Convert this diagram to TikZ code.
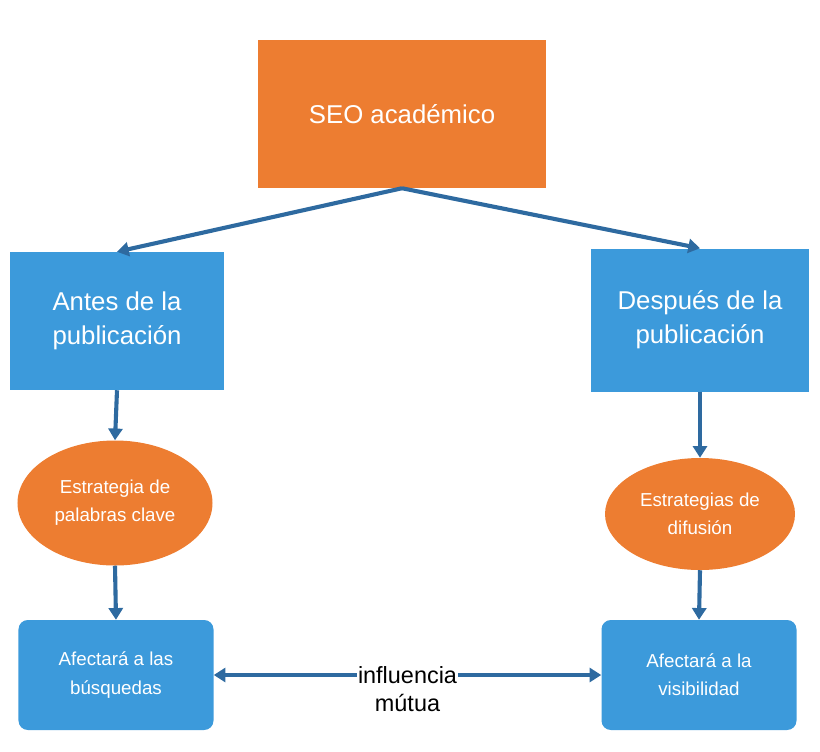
\documentclass[tikz,border=0pt]{standalone}
\usepackage{fontspec}
\setmainfont{Liberation Sans}
\usetikzlibrary{shapes.geometric, positioning, arrows.meta}
\definecolor{seoorange}{HTML}{ED7D31}
\definecolor{seoblue}{HTML}{3C9ADB}
\definecolor{seoarrow}{HTML}{2E6AA0}
\begin{document}
\begin{tikzpicture}[x=0.03cm,y=-0.03cm]
    \tikzset{head/.style={rectangle,fill=seoorange,text=white,minimum width=8.64cm,minimum height=4.44cm,font=\fontsize{22}{26}\selectfont}}
    \tikzset{phase/.style={rectangle,fill=seoblue,text=white,align=center,font=\fontsize{22}{29}\selectfont}}
    \tikzset{plan/.style={ellipse,fill=seoorange,text=white,align=center,inner sep=0pt,font=\fontsize{16}{24}\selectfont}}
    \tikzset{effect/.style={rectangle,rounded corners=8pt,fill=seoblue,text=white,align=center,minimum width=5.85cm,minimum height=3.3cm,font=\fontsize{16}{24}\selectfont}}
    \tikzset{link/.style={draw=seoarrow,line width=3.5pt,-{Triangle[length=10pt,width=12pt]}}}
    \useasboundingbox (0,0) rectangle (820,751);
    \node[head] (seo) at (402,114) {SEO académico};
    \node[phase,minimum width=6.42cm,minimum height=4.14cm] (antes) at (117,321) {Antes de la\\publicación};
    \node[phase,minimum width=6.54cm,minimum height=4.29cm] (despues) at (700,320) {Después de la\\publicación};
    \node[plan,minimum width=5.85cm,minimum height=3.75cm] (clave) at (115,503) {Estrategia de\\palabras clave};
    \node[plan,minimum width=5.7cm,minimum height=3.36cm] (difusion) at (700,514) {Estrategias de\\difusión};
    \node[effect] (busquedas) at (116,675) {Afectará a las\\búsquedas};
    \node[effect] (visibilidad) at (699,675) {Afectará a la\\visibilidad};

    \draw[link] (seo.south) -- (antes.north);
    \draw[link] (seo.south) -- (despues.north);
    \draw[link] (antes.south) -- (clave.north);
    \draw[link] (despues.south) -- (difusion.north);
    \draw[link] (clave.south) -- (busquedas.north);
    \draw[link] (difusion.south) -- (visibilidad.north);
    \draw[link,{Triangle[length=10pt,width=12pt]}-{Triangle[length=10pt,width=12pt]}] (busquedas.east) -- (visibilidad.east -| visibilidad.west)
        node[midway,fill=white,inner sep=1pt,align=center,text=black,font=\fontsize{20}{24}\selectfont,yshift=-12pt] (mutua) {influencia\\mútua};
\end{tikzpicture}
\end{document}
